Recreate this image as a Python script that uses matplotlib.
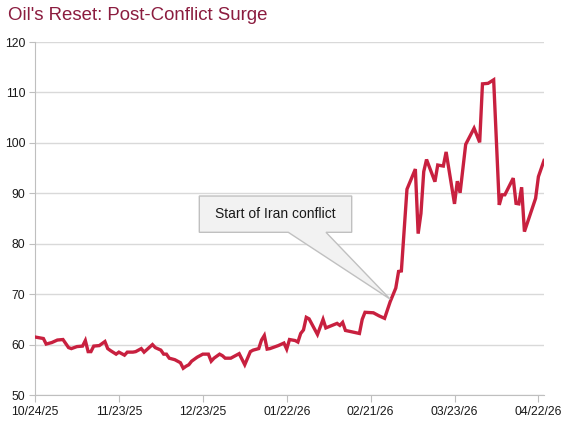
import matplotlib
matplotlib.use("Agg")
import matplotlib.pyplot as plt
import matplotlib.dates as mdates
import numpy as np
import pandas as pd

dates = [
    "2025-10-24", "2025-10-27", "2025-10-28", "2025-10-30", "2025-11-01", "2025-11-03",
    "2025-11-05", "2025-11-06", "2025-11-08", "2025-11-10", "2025-11-11", "2025-11-12",
    "2025-11-13", "2025-11-14", "2025-11-16", "2025-11-18", "2025-11-19", "2025-11-20",
    "2025-11-22", "2025-11-23", "2025-11-25", "2025-11-26", "2025-11-28", "2025-11-29",
    "2025-12-01", "2025-12-02", "2025-12-03", "2025-12-05", "2025-12-06", "2025-12-08",
    "2025-12-09", "2025-12-10", "2025-12-11", "2025-12-13", "2025-12-15", "2025-12-16",
    "2025-12-17", "2025-12-18", "2025-12-19", "2025-12-21", "2025-12-23", "2025-12-25",
    "2025-12-26", "2025-12-27", "2025-12-29", "2025-12-30", "2025-12-31", "2026-01-02",
    "2026-01-03", "2026-01-05", "2026-01-07", "2026-01-09", "2026-01-10", "2026-01-12",
    "2026-01-13", "2026-01-14", "2026-01-15", "2026-01-16", "2026-01-19", "2026-01-21",
    "2026-01-22", "2026-01-23", "2026-01-25", "2026-01-26", "2026-01-27", "2026-01-28",
    "2026-01-29", "2026-01-30", "2026-02-02", "2026-02-04", "2026-02-05", "2026-02-09",
    "2026-02-10", "2026-02-11", "2026-02-12", "2026-02-17", "2026-02-18", "2026-02-19",
    "2026-02-22", "2026-02-24", "2026-02-26", "2026-02-28", "2026-03-02", "2026-03-03",
    "2026-03-04", "2026-03-06", "2026-03-09", "2026-03-10", "2026-03-11", "2026-03-12",
    "2026-03-13", "2026-03-16", "2026-03-17", "2026-03-19", "2026-03-20", "2026-03-23",
    "2026-03-24", "2026-03-25", "2026-03-27", "2026-03-30", "2026-04-01", "2026-04-02",
    "2026-04-04", "2026-04-06", "2026-04-08", "2026-04-09", "2026-04-10", "2026-04-13",
    "2026-04-14", "2026-04-15", "2026-04-16", "2026-04-17", "2026-04-21", "2026-04-22",
    "2026-04-24",
]
prices = [
    61.5, 61.2, 60.1, 60.4, 60.9, 61.0,
    59.4, 59.2, 59.6, 59.7, 60.8, 58.6,
    58.6, 59.7, 59.8, 60.6, 59.2, 58.8,
    58.1, 58.5, 57.9, 58.5, 58.5, 58.6,
    59.2, 58.5, 59.0, 60.0, 59.4, 58.9,
    58.1, 58.1, 57.3, 57.0, 56.4, 55.3,
    55.7, 56.0, 56.7, 57.5, 58.1, 58.1,
    56.7, 57.3, 58.1, 57.8, 57.3, 57.3,
    57.6, 58.2, 56.0, 58.6, 58.9, 59.2,
    60.9, 61.8, 59.1, 59.2, 59.8, 60.3,
    59.1, 61.0, 60.8, 60.5, 62.2, 62.9,
    65.4, 65.1, 62.0, 65.0, 63.3, 64.2,
    63.8, 64.4, 62.8, 62.2, 65.0, 66.4,
    66.3, 65.7, 65.2, 68.5, 71.2, 74.5,
    74.6, 90.8, 94.8, 82.0, 86.0, 94.3,
    96.7, 92.3, 95.6, 95.4, 98.2, 87.9,
    92.4, 90.1, 99.7, 102.9, 100.1, 111.7,
    111.8, 112.5, 87.7, 89.7, 89.7, 93.0,
    88.0, 87.9, 91.2, 82.4, 89.0, 93.3,
    96.5,
]
tick_dates = ["2025-10-24", "2025-11-23", "2025-12-23", "2026-01-22",
              "2026-02-21", "2026-03-23", "2026-04-22"]
callout_text = "Start of Iran conflict"
callout_date = "2026-02-28"
callout_value = 69.0

plt.rcParams['font.family'] = ['Liberation Sans', 'DejaVu Sans']

x = pd.to_datetime(dates)
fig = plt.figure(figsize=(5.72, 4.23), dpi=100)
ax = fig.add_axes([35 / 572, 28 / 423, 509 / 572, 353 / 423])

ax.plot(x, prices, color='#c8203f', lw=2.4, solid_joinstyle='miter', zorder=3)

ax.set_xlim(x[0], x[-1])
ax.set_ylim(50, 120)
ax.set_yticks(np.arange(50, 121, 10))
ax.set_xticks(pd.to_datetime(tick_dates))
ax.xaxis.set_major_formatter(mdates.DateFormatter('%m/%d/%y'))

ax.grid(axis='y', color='#d9d9d9', lw=1)
ax.set_axisbelow(True)
for s in ['top', 'right']:
    ax.spines[s].set_visible(False)
for s in ['left', 'bottom']:
    ax.spines[s].set_color('#bfbfbf')
ax.tick_params(axis='x', length=5, color='#bfbfbf', labelsize=8.8, labelcolor='#1a1a1a', pad=3)
ax.tick_params(axis='y', length=4, color='#bfbfbf', labelsize=8.8, labelcolor='#1a1a1a', pad=3)

# callout box with pointer
fig.canvas.draw()
tip = ax.transAxes.inverted().transform(
    ax.transData.transform((mdates.date2num(pd.Timestamp(callout_date)), callout_value)))
bx0, bx1, by0, by1 = 0.3228, 0.6222, 0.4609, 0.5637
wl, wr = 0.4976, 0.5717
verts = [(bx0, by1), (bx1, by1), (bx1, by0), (wr, by0), tuple(tip), (wl, by0), (bx0, by0)]
poly = plt.Polygon(verts, closed=True, transform=ax.transAxes, facecolor='#f2f2f2',
                   edgecolor='#c0c0c0', lw=1, zorder=4)
ax.add_patch(poly)
ax.text((bx0 + bx1) / 2, (by0 + by1) / 2, callout_text, transform=ax.transAxes,
        ha='center', va='center', fontsize=10, color='#1a1a1a', zorder=5)

fig.text(8 / 572, 1 - 7 / 423, "Oil's Reset: Post-Conflict Surge", ha='left', va='top',
         fontsize=13.4, color='#8b1c3f')

fig.savefig('out.png', dpi=100)
